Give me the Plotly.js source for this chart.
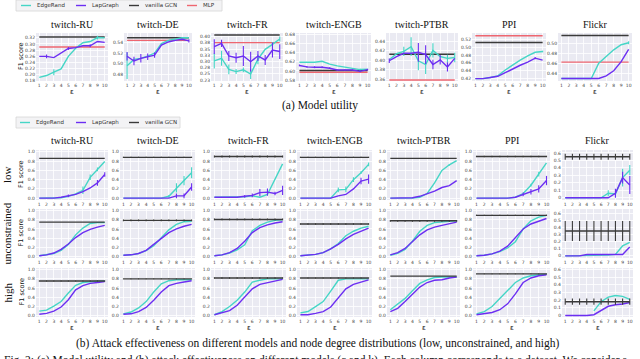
<!DOCTYPE html>
<html>
<head>
<meta charset="utf-8">
<script src="https://cdn.plot.ly/plotly-3.0.1.min.js"></script>
<style>body{margin:0;background:#fff}#chart{width:640px;height:359px}</style>
</head>
<body>
<div id="chart"></div>
<script>
var eps = [1, 2, 3, 4, 5, 6, 7, 8, 9, 10];
var datasets = ["twitch-RU", "twitch-DE", "twitch-FR", "twitch-ENGB", "twitch-PTBR", "PPI", "Flickr"];
var rowNames = ["low", "unconstrained", "high"];

// (a) model utility (F1), one row per dataset
var utilEdgeRand = [
  [0.190, 0.196, 0.207, 0.218, 0.259, 0.286, 0.304, 0.308, 0.321, 0.320],
  [0.496, 0.508, 0.510, 0.514, 0.520, 0.538, 0.544, 0.546, 0.549, 0.549],
  [0.302, 0.313, 0.268, 0.259, 0.266, 0.249, 0.309, 0.349, 0.369, 0.391],
  [0.619, 0.619, 0.619, 0.621, 0.615, 0.611, 0.608, 0.605, 0.603, 0.604],
  [0.401, 0.414, 0.419, 0.429, 0.399, 0.391, 0.421, 0.408, 0.404, 0.406],
  [0.420, 0.420, 0.423, 0.427, 0.442, 0.455, 0.467, 0.478, 0.487, 0.489],
  [0.431, 0.431, 0.431, 0.431, 0.431, 0.461, 0.475, 0.487, 0.497, 0.501]
];
var utilEdgeRandErr = [
  [0, 0, 0.010, 0, 0, 0, 0, 0, 0.006, 0],
  [0.025, 0, 0, 0, 0, 0, 0, 0, 0, 0],
  [0.03, 0.03, 0.02, 0.01, 0.01, 0.02, 0.02, 0, 0.01, 0.01],
  [0, 0, 0, 0, 0, 0, 0, 0, 0.002, 0],
  [0, 0, 0.01, 0.02, 0.02, 0.02, 0.015, 0, 0.008, 0.01],
  [0, 0, 0, 0, 0, 0, 0, 0, 0, 0.002],
  [0, 0, 0, 0, 0, 0, 0, 0, 0, 0.003]
];
var utilLapGraph = [
  [0.259, 0.259, 0.255, 0.269, 0.285, 0.288, 0.294, 0.294, 0.308, 0.305],
  [0.514, 0.505, 0.510, 0.513, 0.516, 0.535, 0.541, 0.544, 0.546, 0.543],
  [0.360, 0.373, 0.322, 0.315, 0.322, 0.299, 0.322, 0.306, 0.346, 0.340],
  [0.612, 0.609, 0.608, 0.608, 0.606, 0.602, 0.602, 0.602, 0.599, 0.603],
  [0.399, 0.408, 0.415, 0.415, 0.417, 0.412, 0.391, 0.401, 0.386, 0.404],
  [0.420, 0.420, 0.423, 0.426, 0.435, 0.445, 0.454, 0.462, 0.472, 0.467],
  [0.431, 0.431, 0.431, 0.431, 0.431, 0.431, 0.436, 0.446, 0.464, 0.488]
];
var utilLapGraphErr = [
  [0, 0.006, 0, 0, 0.005, 0, 0, 0.005, 0, 0],
  [0.008, 0.008, 0.008, 0.006, 0.005, 0, 0, 0, 0, 0.003],
  [0.03, 0.015, 0.02, 0.02, 0.04, 0.04, 0.02, 0.02, 0.03, 0.03],
  [0.002, 0.002, 0.002, 0.002, 0.002, 0.001, 0.001, 0.001, 0.002, 0.002],
  [0.005, 0, 0, 0, 0.02, 0.02, 0.01, 0.01, 0.01, 0],
  [0, 0, 0, 0, 0, 0, 0, 0, 0.003, 0],
  [0, 0, 0, 0, 0, 0, 0, 0, 0, 0]
];
var utilGCN = [0.323, 0.549, 0.407, 0.601, 0.413, 0.512, 0.515];
var utilMLP = [0.290, 0.544, 0.376, 0.597, 0.358, 0.529, 0.463];

var utilTicks = [
  ["0.18", "0.20", "0.22", "0.24", "0.26", "0.28", "0.30", "0.32"],
  ["0.48", "0.50", "0.52", "0.54"],
  ["0.23", "0.25", "0.28", "0.30", "0.33", "0.35", "0.38", "0.40"],
  ["0.58", "0.60", "0.62", "0.64", "0.66", "0.68"],
  ["0.36", "0.38", "0.40", "0.42", "0.44"],
  ["0.42", "0.44", "0.46", "0.48", "0.50", "0.52"],
  ["0.44", "0.46", "0.48", "0.50"]
];
var frTickVals = [0.225, 0.25, 0.275, 0.30, 0.325, 0.35, 0.375, 0.40];
var utilRange = [[0.178, 0.336], [0.467, 0.558], [0.221, 0.415], [0.578, 0.683], [0.356, 0.458], [0.414, 0.536], [0.426, 0.520]];

// (b) attack effectiveness (F1), rows: low / unconstrained / high
var lowEdgeRand = [
  [0, 0, 0, 0.01, 0.04, 0.09, 0.17, 0.45, 0.62, 0.79],
  [0, 0, 0, 0, 0, 0, 0.04, 0.22, 0.38, 0.55],
  [0.02, 0.02, 0.02, 0.02, 0.03, 0.05, 0.02, 0.08, 0.40, 0.74],
  [0, 0, 0, 0, 0, 0.18, 0.19, 0.40, 0.55, 0.73],
  [0, 0, 0, 0, 0.02, 0.10, 0.33, 0.60, 0.72, 0.81],
  [0, 0, 0, 0, 0, 0.02, 0.10, 0.28, 0.52, 0.76],
  [0, 0, 0, 0, 0, 0, 0.06, 0.05, 0.27, 0.37]
];
var lowEdgeRandErr = [
  [0, 0, 0, 0, 0, 0, 0.08, 0.06, 0.04, 0],
  [0, 0, 0, 0, 0, 0, 0.03, 0.10, 0.10, 0.12],
  [0, 0, 0, 0, 0, 0, 0, 0, 0, 0],
  [0, 0, 0, 0, 0, 0.05, 0.06, 0.05, 0.03, 0.04],
  [0, 0, 0, 0, 0, 0, 0, 0, 0.02, 0],
  [0, 0, 0, 0, 0, 0, 0, 0.03, 0.05, 0],
  [0, 0, 0, 0, 0, 0, 0.04, 0, 0.12, 0.07]
];
var lowLapGraph = [
  [0, 0, 0, 0.02, 0.05, 0.08, 0.14, 0.22, 0.33, 0.51],
  [0, 0, 0, 0, 0, 0, 0, 0.05, 0.05, 0.24],
  [0.02, 0.02, 0.02, 0.02, 0.04, 0.06, 0.12, 0.13, 0.10, 0.17],
  [0, 0, 0, 0, 0, 0.05, 0.08, 0.20, 0.37, 0.41],
  [0, 0, 0, 0.01, 0.04, 0.10, 0.15, 0.23, 0.27, 0.38],
  [0, 0, 0, 0, 0, 0.02, 0.08, 0.14, 0.20, 0.38],
  [0, 0, 0, 0, 0, 0, 0, 0.06, 0.27, 0.17]
];
var lowLapGraphErr = [
  [0, 0, 0, 0, 0.03, 0, 0, 0, 0.06, 0.05],
  [0, 0, 0, 0, 0, 0, 0, 0.05, 0.05, 0.08],
  [0, 0, 0, 0, 0.03, 0.04, 0.08, 0.08, 0.04, 0.10],
  [0, 0, 0, 0, 0, 0, 0, 0, 0.07, 0.10],
  [0, 0, 0, 0, 0, 0, 0, 0, 0, 0],
  [0, 0, 0, 0, 0, 0, 0.04, 0.06, 0.08, 0.10],
  [0, 0, 0, 0, 0, 0, 0, 0.06, 0.08, 0.12]
];
var lowGCN = [0.86, 0.88, 0.90, 0.88, 0.86, 0.90, 0.55];
var lowGCNErr = [0, 0.015, 0.02, 0.015, 0, 0.015, 0.04];

var uncEdgeRand = [
  [0.01, 0.03, 0.06, 0.13, 0.26, 0.47, 0.62, 0.72, 0.74, 0.74],
  [0.02, 0.03, 0.06, 0.12, 0.23, 0.40, 0.58, 0.70, 0.76, 0.77],
  [0.01, 0.03, 0.07, 0.14, 0.25, 0.56, 0.68, 0.75, 0.79, 0.80],
  [0.01, 0.02, 0.04, 0.08, 0.16, 0.28, 0.45, 0.55, 0.62, 0.66],
  [0.02, 0.06, 0.15, 0.33, 0.55, 0.68, 0.74, 0.76, 0.77, 0.78],
  [0.01, 0.02, 0.05, 0.10, 0.18, 0.32, 0.60, 0.78, 0.86, 0.90],
  [0, 0, 0, 0, 0.01, 0.01, 0.01, 0.02, 0.14, 0.19]
];
var uncLapGraph = [
  [0.01, 0.03, 0.07, 0.15, 0.27, 0.41, 0.52, 0.59, 0.64, 0.68],
  [0.02, 0.03, 0.06, 0.13, 0.26, 0.40, 0.52, 0.60, 0.66, 0.70],
  [0.01, 0.03, 0.08, 0.17, 0.33, 0.52, 0.63, 0.69, 0.73, 0.76],
  [0.01, 0.02, 0.04, 0.08, 0.16, 0.26, 0.38, 0.48, 0.55, 0.62],
  [0.03, 0.08, 0.17, 0.32, 0.47, 0.58, 0.64, 0.68, 0.72, 0.75],
  [0.01, 0.02, 0.05, 0.11, 0.22, 0.42, 0.60, 0.71, 0.77, 0.83],
  [0, 0, 0, 0.02, 0.02, 0.02, 0.02, 0.02, 0.02, 0.125]
];
var uncGCN = [0.75, 0.79, 0.81, 0.71, 0.78, 0.90, 0.35];
var uncGCNErr = [0, 0.02, 0.02, 0.015, 0.02, 0.015, 0.14];

var highEdgeRand = [
  [0.09, 0.11, 0.20, 0.30, 0.49, 0.66, 0.72, 0.74, 0.75, 0.755],
  [0.03, 0.07, 0.16, 0.30, 0.51, 0.69, 0.76, 0.78, 0.78, 0.78],
  [0.01, 0.08, 0.19, 0.33, 0.51, 0.73, 0.77, 0.80, 0.80, 0.80],
  [0.05, 0.08, 0.19, 0.30, 0.53, 0.77, 0.80, 0.80, 0.80, 0.80],
  [0.12, 0.25, 0.37, 0.54, 0.70, 0.78, 0.83, 0.84, 0.84, 0.84],
  [0.03, 0.08, 0.19, 0.37, 0.56, 0.72, 0.82, 0.87, 0.89, 0.90],
  [null, null, null, null, 0.06, 0.18, 0.24, 0.26, 0.25, 0.21]
];
var highLapGraph = [
  [0.02, 0.04, 0.09, 0.18, 0.34, 0.56, 0.65, 0.70, 0.72, 0.74],
  [0.02, 0.03, 0.08, 0.17, 0.33, 0.51, 0.65, 0.70, 0.73, 0.76],
  [0.01, 0.05, 0.10, 0.22, 0.40, 0.58, 0.68, 0.72, 0.75, 0.79],
  [0.01, 0.01, 0.04, 0.08, 0.18, 0.37, 0.58, 0.68, 0.73, 0.78],
  [0.08, 0.15, 0.30, 0.45, 0.62, 0.72, 0.77, 0.78, 0.82, 0.84],
  [0.01, 0.04, 0.06, 0.12, 0.25, 0.47, 0.72, 0.82, 0.87, 0.89],
  [0, 0, 0, 0, 0.01, 0.06, 0.12, 0.14, 0.15, 0.17]
];
var highGCN = [0.755, 0.80, 0.82, 0.82, 0.86, 0.91, 0.18];
var highGCNErr = [0.01, 0.01, 0.015, 0.01, 0, 0.01, 0.04];

var attackTicks = ["0.0", "0.2", "0.4", "0.6", "0.8", "1.0"];
var flickrTicks = ["0", "0.1", "0.2", "0.3", "0.4", "0.5", "0.6"];

var cEdge = "#45D6C6", cLap = "#6C2EF2", cGCN = "#3A3A3A", cMLP = "#EE6670";
var W = 640, H = 359;
var aCols = [[36, 108], [124, 192], [211, 283], [296, 371], [386, 458], [472, 546], [558, 632]];
var bCols = [[36, 108], [120, 195], [211, 286], [297, 372], [387, 460], [473, 550], [562, 633]];
var aRow = [33, 81];
var bRows = [[150, 200], [209, 258], [268, 317]];

var traces = [];
var annotations = [];
var shapes = [];
var layout = {
  width: W, height: H,
  margin: {l: 0, r: 0, t: 0, b: 0, autoexpand: false},
  paper_bgcolor: "#ffffff",
  plot_bgcolor: "#EAEAF2",
  font: {family: "DejaVu Sans, sans-serif", size: 5, color: "#333"},
  showlegend: false
};

var nAx = 0;
function makePanel(cols, rows, range, ticktext, tickvals) {
  nAx++;
  var s = nAx === 1 ? "" : String(nAx);
  layout["xaxis" + s] = {
    domain: [cols[0] / W, cols[1] / W], anchor: "y" + s, range: [0.55, 10.45],
    tickvals: eps, ticks: "", showline: false, zeroline: false,
    gridcolor: "#ffffff", gridwidth: 0.8, tickfont: {size: 4.5, color: "#444"}, fixedrange: true
  };
  layout["yaxis" + s] = {
    domain: [1 - rows[1] / H, 1 - rows[0] / H], anchor: "x" + s, range: range,
    tickvals: tickvals || ticktext.map(Number), ticktext: ticktext, ticks: "",
    showline: false, zeroline: false,
    gridcolor: "#ffffff", gridwidth: 0.8, tickfont: {size: 4.5, color: "#444"}, fixedrange: true
  };
  return {x: "x" + s, y: "y" + s};
}

function addLine(ax, y, err, color, name) {
  var t = {
    x: eps, y: y, type: "scatter", mode: "lines", xaxis: ax.x, yaxis: ax.y,
    line: {color: color, width: 1.4}, name: name, hoverinfo: "skip"
  };
  if (err) {
    t.error_y = {type: "data", array: err, visible: true, color: color, thickness: 1.1, width: 0};
  }
  traces.push(t);
}

function constant(v) { return eps.map(function () { return v; }); }

function addText(text, x, y, size, family, opts) {
  var a = {
    text: text, x: x / W, y: 1 - y / H, xref: "paper", yref: "paper",
    xanchor: "center", yanchor: "middle",
    showarrow: false, font: {size: size, family: family, color: "#111"}
  };
  for (var k in opts) a[k] = opts[k];
  annotations.push(a);
}

var serif = "Liberation Serif, Times New Roman, serif";
var sans = "DejaVu Sans, sans-serif";

// hand-made legend box (plotly's own legend icons are too wide for this layout)
function addLegend(box, items) {
  shapes.push({
    type: "rect", xref: "paper", yref: "paper",
    x0: box[0] / W, x1: box[2] / W, y0: 1 - box[3] / H, y1: 1 - box[1] / H,
    fillcolor: "#F3F3F5", line: {color: "#D6D6D6", width: 0.8}, layer: "below"
  });
  var cy = (box[1] + box[3]) / 2;
  items.forEach(function (it) {
    shapes.push({
      type: "line", xref: "paper", yref: "paper",
      x0: it.x / W, x1: (it.x + 10) / W, y0: 1 - cy / H, y1: 1 - cy / H,
      line: {color: it.color, width: 1.4}
    });
    addText(it.name, it.x + 14, cy, 5.5, sans, {xanchor: "left", font: {size: 5.5, family: sans, color: "#333"}});
  });
}

// (a) model utility
datasets.forEach(function (name, i) {
  var ax = makePanel(aCols[i], aRow, utilRange[i], utilTicks[i], name === "twitch-FR" ? frTickVals : null);
  addLine(ax, constant(utilMLP[i]), null, cMLP, "MLP");
  addLine(ax, constant(utilGCN[i]), null, cGCN, "vanilla GCN");
  addLine(ax, utilEdgeRand[i], utilEdgeRandErr[i], cEdge, "EdgeRand");
  addLine(ax, utilLapGraph[i], utilLapGraphErr[i], cLap, "LapGraph");
  var cx = (aCols[i][0] + aCols[i][1]) / 2;
  addText(name, cx, aRow[0] - 1, 10, serif, {yanchor: "bottom"});
  addText("ε", cx, aRow[1] + 11, 7, sans, {});
});
addText("F1 score", 21, (aRow[0] + aRow[1]) / 2, 6.5, sans, {textangle: -90});
addText("(a) Model utility", 320, 105, 11.5, serif, {});
addLegend([16, 0, 222, 11], [
  {x: 21, name: "EdgeRand", color: cEdge},
  {x: 76, name: "LapGraph", color: cLap},
  {x: 129, name: "vanilla GCN", color: cGCN},
  {x: 187, name: "MLP", color: cMLP}
]);

// (b) attack effectiveness
var rowsEdge = [lowEdgeRand, uncEdgeRand, highEdgeRand];
var rowsLap = [lowLapGraph, uncLapGraph, highLapGraph];
var rowsGCN = [lowGCN, uncGCN, highGCN];
var rowsGCNErr = [lowGCNErr, uncGCNErr, highGCNErr];
var rowsEdgeErr = [lowEdgeRandErr, null, null];
var rowsLapErr = [lowLapGraphErr, null, null];
var flickrRange = [[-0.03, 0.64], [-0.03, 0.66], [-0.02, 0.62]];

rowNames.forEach(function (rowName, r) {
  datasets.forEach(function (name, i) {
    var isFlickr = name === "Flickr";
    var ax = makePanel(bCols[i], bRows[r], isFlickr ? flickrRange[r] : [-0.04, 1.04],
      isFlickr ? flickrTicks : attackTicks, null);
    addLine(ax, rowsEdge[r][i], rowsEdgeErr[r] ? rowsEdgeErr[r][i] : null, cEdge, "EdgeRand");
    addLine(ax, rowsLap[r][i], rowsLapErr[r] ? rowsLapErr[r][i] : null, cLap, "LapGraph");
    addLine(ax, constant(rowsGCN[r][i]), constant(rowsGCNErr[r][i]), cGCN, "vanilla GCN");
    var cx = (bCols[i][0] + bCols[i][1]) / 2;
    if (r === 0) addText(name, cx, bRows[0][0] - 2, 10, serif, {yanchor: "bottom"});
    if (r === 2) addText("ε", cx, bRows[2][1] + 11, 7, sans, {});
  });
  var cy = (bRows[r][0] + bRows[r][1]) / 2;
  addText(rowName, 7, cy, 11, serif, {textangle: -90});
  addText("F1 score", 21, cy, 6.5, sans, {textangle: -90});
});
addText("(b) Attack effectiveness on different models and node degree distributions (low, unconstrained, and high)",
  317, 343, 11.5, serif, {});
addText("Fig. 2: (a) Model utility and (b) attack effectiveness on different models (ε and k). Each column corresponds to a dataset. We consider a",
  2, 352, 11.5, serif, {xanchor: "left", yanchor: "top"});
addLegend([16, 117, 180, 128], [
  {x: 20, name: "EdgeRand", color: cEdge},
  {x: 76, name: "LapGraph", color: cLap},
  {x: 129, name: "vanilla GCN", color: cGCN}
]);

layout.annotations = annotations;
layout.shapes = shapes;
Plotly.newPlot("chart", traces, layout, {displayModeBar: false, staticPlot: true});
</script>
</body>
</html>
